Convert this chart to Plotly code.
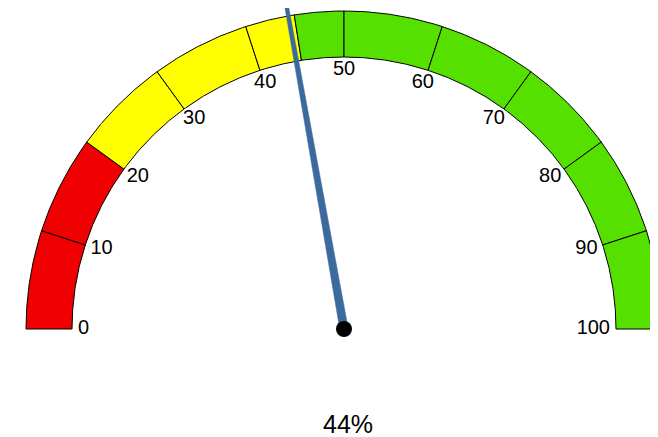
import numpy as np
import plotly.graph_objects as go

# ---- data ----
gauge_min = 0
gauge_max = 100
needle_value = 44.4
value_label = "44%"
band_edges = [0, 10, 20, 30, 40, 45, 50, 60, 70, 80, 90, 100]
band_colors = ["#f00000", "#f00000", "#ffff00", "#ffff00", "#ffff00",
               "#55e000", "#55e000", "#55e000", "#55e000", "#55e000", "#55e000"]
tick_values = [0, 10, 20, 30, 40, 50, 60, 70, 80, 90, 100]
tick_labels = ["0", "10", "20", "30", "40", "50", "60", "70", "80", "90", "100"]

# ---- geometry (styling) ----
R_OUT = 318
R_IN = 272
R_LABEL = 266
LABEL_SIZE = 20
CHAR_W = 0.556 * LABEL_SIZE
LABEL_H = 14
NEEDLE_LEN = 345
NEEDLE_BASE = 4.2
NEEDLE_TIP = 1.8


def ang(v):
    return np.pi * (1 - (v - gauge_min) / (gauge_max - gauge_min))


fig = go.Figure()

for a, b, c in zip(band_edges[:-1], band_edges[1:], band_colors):
    t = np.linspace(ang(a), ang(b), 60)
    xs = np.concatenate([R_OUT * np.cos(t), R_IN * np.cos(t[::-1])])
    ys = np.concatenate([R_OUT * np.sin(t), R_IN * np.sin(t[::-1])])
    xs = np.append(xs, xs[0])
    ys = np.append(ys, ys[0])
    fig.add_trace(go.Scatter(x=xs, y=ys, mode="lines", fill="toself",
                             fillcolor=c, line=dict(color="black", width=1),
                             hoverinfo="skip", showlegend=False))

# tick labels: box edge touches the label circle
lx, ly = [], []
for v, s in zip(tick_values, tick_labels):
    t = ang(v)
    w = len(s) * CHAR_W
    lx.append(R_LABEL * np.cos(t) - w / 2 * np.cos(t))
    ly.append(R_LABEL * np.sin(t) - LABEL_H / 2 * np.sin(t))
fig.add_trace(go.Scatter(x=lx, y=ly, mode="text", text=tick_labels,
                         textfont=dict(family="Liberation Sans, Arial", size=LABEL_SIZE, color="black"),
                         hoverinfo="skip", showlegend=False))

# needle
th = ang(needle_value)
ux, uy = np.cos(th), np.sin(th)
px, py = -uy, ux
nx = [NEEDLE_BASE * px, NEEDLE_LEN * ux + NEEDLE_TIP * px,
      NEEDLE_LEN * ux - NEEDLE_TIP * px, -NEEDLE_BASE * px, NEEDLE_BASE * px]
ny = [NEEDLE_BASE * py, NEEDLE_LEN * uy + NEEDLE_TIP * py,
      NEEDLE_LEN * uy - NEEDLE_TIP * py, -NEEDLE_BASE * py, NEEDLE_BASE * py]
fig.add_trace(go.Scatter(x=nx, y=ny, mode="lines", fill="toself",
                         fillcolor="#3d6a9e", line=dict(color="#3d6a9e", width=0.5),
                         hoverinfo="skip", showlegend=False))
fig.add_trace(go.Scatter(x=[0], y=[0], mode="markers",
                         marker=dict(color="black", size=16),
                         hoverinfo="skip", showlegend=False))

fig.add_annotation(x=4, y=-95, text=value_label, showarrow=False,
                   font=dict(family="Liberation Sans, Arial", size=25, color="black"),
                   borderpad=0, xref="x", yref="y")

fig.update_layout(
    width=658, height=437,
    margin=dict(l=0, r=0, t=0, b=0),
    paper_bgcolor="white", plot_bgcolor="white",
    xaxis=dict(range=[-336, 322], visible=False, fixedrange=True),
    yaxis=dict(range=[-116, 321], visible=False, fixedrange=True),
)

fig.write_html("out.html")
